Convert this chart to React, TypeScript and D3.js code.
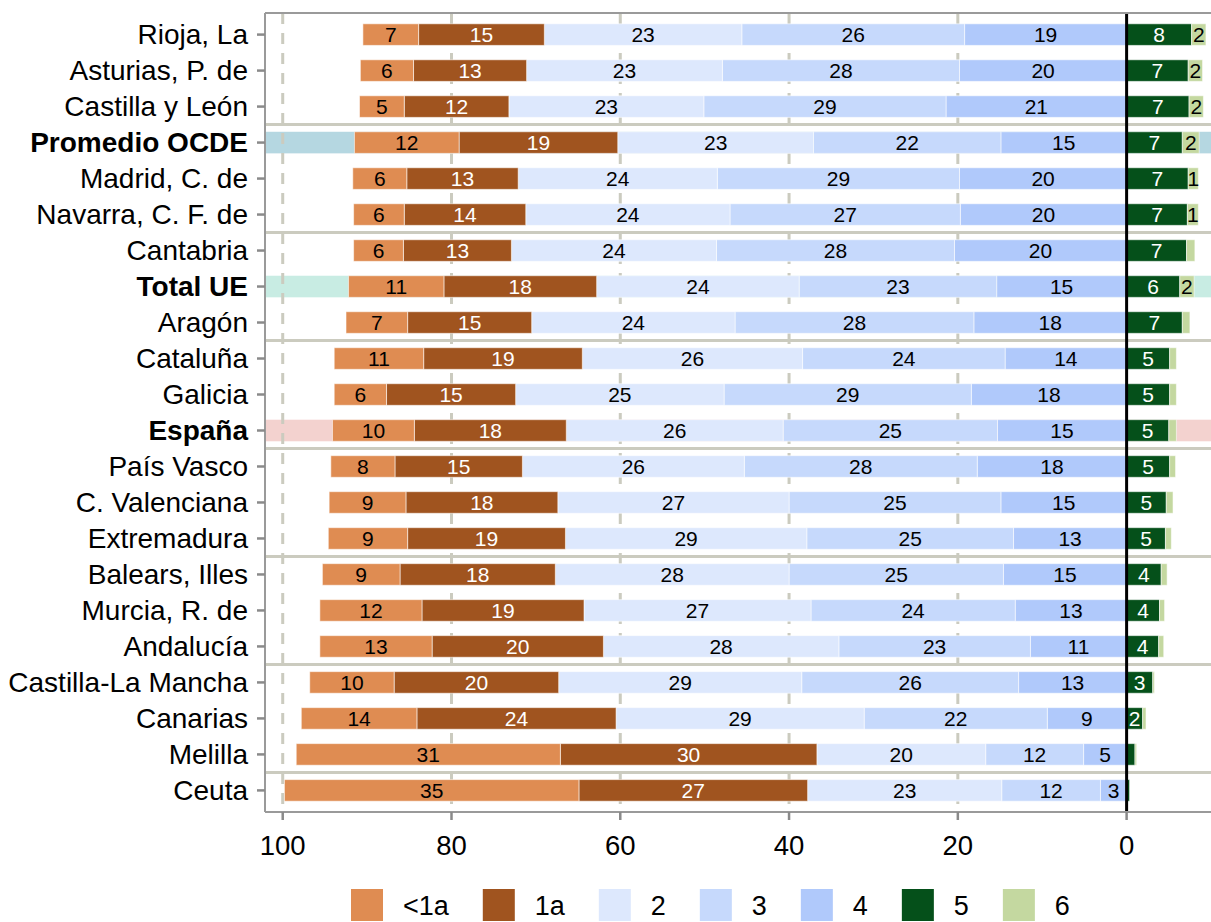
import React from 'react';
import * as d3 from 'd3';

// Regiones (de arriba a abajo)
const regions = [
  'Rioja, La', 'Asturias, P. de', 'Castilla y León', 'Promedio OCDE', 'Madrid, C. de',
  'Navarra, C. F. de', 'Cantabria', 'Total UE', 'Aragón', 'Cataluña', 'Galicia', 'España',
  'País Vasco', 'C. Valenciana', 'Extremadura', 'Balears, Illes', 'Murcia, R. de', 'Andalucía',
  'Castilla-La Mancha', 'Canarias', 'Melilla', 'Ceuta',
];

// Porcentaje de alumnos por nivel
const lvlLt1a = [6.6, 6.3, 5.3, 12.4, 6.4, 6.0, 5.9, 11.3, 7.3, 10.6, 6.2, 9.7, 7.6, 9.1, 9.4, 9.2, 12.1, 13.3, 10.0, 13.7, 31.3, 34.9];
const lvl1a = [14.9, 13.4, 12.4, 18.8, 13.2, 14.4, 12.8, 18.1, 14.7, 18.8, 15.3, 18.0, 15.1, 18.0, 18.7, 18.4, 19.2, 20.3, 19.5, 23.6, 30.4, 27.1];
const lvl2 = [23.4, 23.2, 23.1, 23.2, 23.6, 24.2, 24.3, 24.0, 24.1, 26.1, 24.7, 25.7, 26.3, 27.4, 28.6, 27.7, 26.9, 27.9, 28.8, 29.4, 20.0, 23.0];
const lvl3 = [26.4, 28.1, 28.7, 22.2, 28.7, 27.3, 28.2, 23.4, 28.3, 24.0, 29.3, 25.4, 27.6, 25.1, 24.5, 25.4, 24.2, 22.7, 25.7, 21.7, 11.6, 11.7];
const lvl4 = [19.2, 19.8, 21.4, 14.9, 19.8, 19.7, 20.4, 15.4, 18.1, 14.4, 18.4, 15.3, 17.7, 14.9, 13.4, 14.6, 13.2, 11.4, 12.8, 9.4, 5.1, 3.1];
const lvl5 = [7.7, 7.3, 7.4, 6.6, 7.3, 7.2, 7.1, 6.3, 6.6, 5.1, 5.1, 5.0, 5.1, 4.7, 4.6, 4.1, 3.9, 3.8, 3.1, 1.9, 0.99, 0.35];
const lvl6 = [1.7, 1.7, 1.7, 2.0, 1.2, 1.3, 0.99, 1.7, 0.9, 0.8, 0.8, 0.9, 0.7, 0.8, 0.7, 0.7, 0.6, 0.6, 0.2, 0.4, 0.2, 0.0];

const levelNames = ['<1a', '1a', '2', '3', '4', '5', '6'];
const levelColors = ['#df8c52', '#a0541f', '#dde8fd', '#c6d9fc', '#b0c9fb', '#05501a', '#c4d8a0'];
const labelColors = ['#000', '#fff', '#000', '#000', '#000', '#fff', '#000'];

const highlights: Record<string, string> = {
  'Promedio OCDE': '#b5d7e1',
  'Total UE': '#c8ece3',
  'España': '#f3d2cf',
};

const xTicks = [100, 80, 60, 40, 20, 0];

const FONT = 'Liberation Sans, Arial, sans-serif';
const W = 1211;
const H = 922;
const panel = { left: 265, top: 13, right: 1211, bottom: 812 };
const gridColor = '#cbcbbf';

// ancho aproximado de texto (métricas Arial)
const charW: Record<string, number> = { '<': 0.584, a: 0.556 };
const textWidth = (s: string, size: number) =>
  s.split('').reduce((acc, c) => acc + (charW[c] ?? 0.556), 0) * size;

export default function App() {
  const x = d3.scaleLinear().domain([102.1, -10]).range([panel.left, panel.right]);
  const y = d3.scalePoint<string>().domain(regions).range([panel.top, panel.bottom]).padding(0.6);
  const step = y.step();
  const barH = step * 0.6;

  // segmentos: izquierda acumulando desde 0 (4,3,2,1a,<1a), derecha (5,6)
  const segs: { row: string; lvl: number; x0: number; x1: number; v: number }[] = [];
  regions.forEach((r, i) => {
    const left = [lvlLt1a[i], lvl1a[i], lvl2[i], lvl3[i], lvl4[i]];
    let acc = 0;
    for (let k = 4; k >= 0; k--) {
      segs.push({ row: r, lvl: k, x0: acc, x1: acc + left[k], v: left[k] });
      acc += left[k];
    }
    segs.push({ row: r, lvl: 5, x0: 0, x1: -lvl5[i], v: lvl5[i] });
    segs.push({ row: r, lvl: 6, x0: -lvl5[i], x1: -lvl5[i] - lvl6[i], v: lvl6[i] });
  });

  const separators = [3, 6, 9, 12, 15, 18, 21].map(
    (k) => ((y(regions[k - 1]) as number) + (y(regions[k]) as number)) / 2
  );

  // leyenda
  let lx = 351;
  const legend = levelNames.map((name, i) => {
    const item = { name, color: levelColors[i], x: lx };
    lx += 32 + 20 + textWidth(name, 27) + 34;
    return item;
  });

  return (
    <svg width={W} height={H} style={{ position: 'absolute', left: 0, top: 0, fontFamily: FONT }}>
      <rect width={W} height={H} fill="#fff" />
      <defs>
        <clipPath id="panel">
          <rect x={panel.left} y={panel.top} width={panel.right - panel.left} height={panel.bottom - panel.top} />
        </clipPath>
      </defs>

      <g clipPath="url(#panel)">
        {regions.filter((r) => highlights[r]).map((r) => (
          <rect key={r} x={panel.left} width={panel.right - panel.left}
            y={(y(r) as number) - barH / 2} height={barH} fill={highlights[r]} />
        ))}
        {xTicks.slice(0, 5).map((t) => (
          <line key={t} x1={x(t)} x2={x(t)} y1={panel.top} y2={panel.bottom}
            stroke={gridColor} strokeWidth={3} strokeDasharray="11,9" />
        ))}
        {separators.map((sy, i) => (
          <line key={i} x1={panel.left} x2={panel.right} y1={sy} y2={sy} stroke={gridColor} strokeWidth={3} />
        ))}
        {segs.filter((s) => s.v > 0).map((s, i) => (
          <rect key={i} x={Math.min(x(s.x0), x(s.x1))} width={Math.abs(x(s.x1) - x(s.x0))}
            y={(y(s.row) as number) - barH / 2} height={barH}
            fill={levelColors[s.lvl]} stroke="#ffffff" strokeOpacity={0.55} strokeWidth={1} />
        ))}
        {segs.filter((s) => s.v >= 1).map((s, i) => (
          <text key={i} x={(x(s.x0) + x(s.x1)) / 2} y={y(s.row) as number}
            textAnchor="middle" dominantBaseline="central" fontSize={21} fill={labelColors[s.lvl]}>
            {Math.round(s.v)}
          </text>
        ))}
        <line x1={x(0)} x2={x(0)} y1={panel.top} y2={panel.bottom} stroke="#000" strokeWidth={3} />
      </g>

      {/* borde del panel */}
      <line x1={panel.left} x2={panel.left} y1={panel.top} y2={panel.bottom} stroke="#9a9a9a" strokeWidth={2} />
      <line x1={panel.left} x2={panel.right} y1={panel.top} y2={panel.top} stroke="#9a9a9a" strokeWidth={2} />
      <line x1={panel.left} x2={panel.right} y1={panel.bottom} y2={panel.bottom} stroke="#9a9a9a" strokeWidth={2} />

      {/* eje Y */}
      {regions.map((r) => (
        <g key={r}>
          <line x1={panel.left - 8} x2={panel.left} y1={y(r)} y2={y(r)} stroke="#8a8a8a" strokeWidth={2.5} />
          <text x={248} y={y(r) as number} textAnchor="end" dominantBaseline="central" fontSize={28}
            fontWeight={highlights[r] ? 'bold' : 'normal'} fill="#000">
            {r}
          </text>
        </g>
      ))}

      {/* eje X */}
      {xTicks.map((t) => (
        <g key={t}>
          <line x1={x(t)} x2={x(t)} y1={panel.bottom} y2={panel.bottom + 8} stroke="#8a8a8a" strokeWidth={2.5} />
          <text x={x(t)} y={845} textAnchor="middle" dominantBaseline="central" fontSize={27.5} fill="#000">
            {t}
          </text>
        </g>
      ))}

      {/* leyenda */}
      {legend.map((l) => (
        <g key={l.name}>
          <rect x={l.x} y={889} width={32} height={32} fill={l.color} />
          <text x={l.x + 52} y={915} fontSize={27} fill="#000">
            {l.name}
          </text>
        </g>
      ))}
    </svg>
  );
}
